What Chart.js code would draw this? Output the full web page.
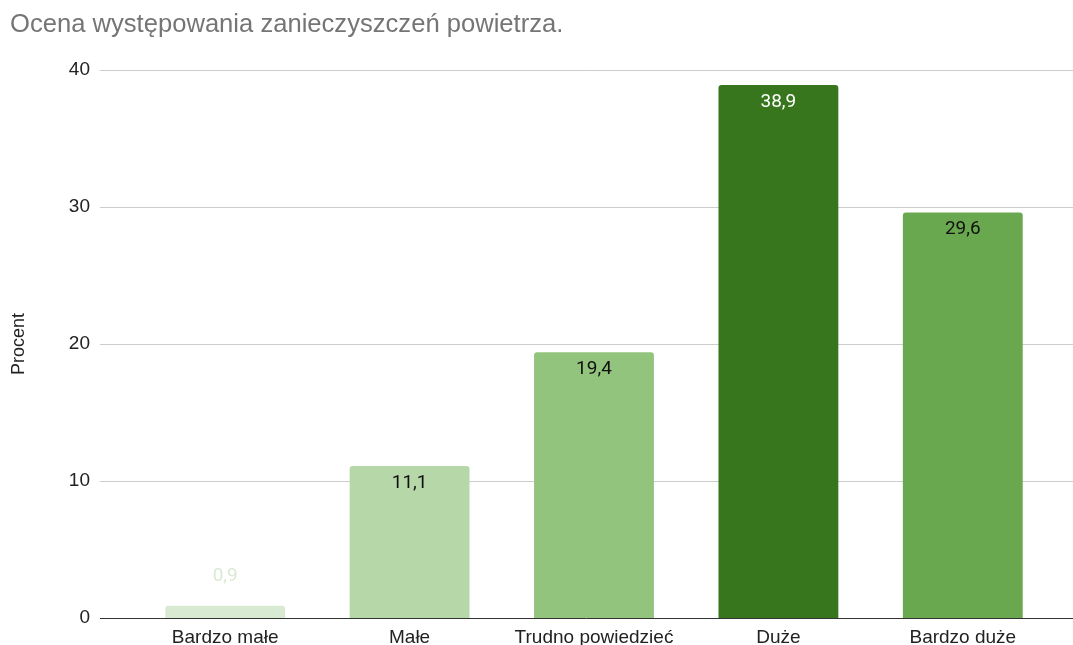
<!DOCTYPE html>
<html>
<head>
<meta charset="utf-8">
<script src="https://cdn.jsdelivr.net/npm/chart.js@4"></script>
<style>
  html, body { margin: 0; padding: 0; background: #fff; }
  #wrap { width: 1073px; height: 645px; }
</style>
</head>
<body>
<div id="wrap"><canvas id="c" width="1073" height="645"></canvas></div>
<script>
const categories = ['Bardzo małe', 'Małe', 'Trudno powiedzieć', 'Duże', 'Bardzo duże'];
const values = [0.9, 11.1, 19.4, 38.9, 29.6];
const barColors = ['#d9ead3', '#b6d7a8', '#93c47d', '#38761d', '#6aa84f'];
const labelColors = ['#d9ead3', '#111111', '#111111', '#ffffff', '#111111'];
const yTicks = [0, 10, 20, 30, 40];
const titleText = 'Ocena występowania zanieczyszczeń powietrza.';
const yTitle = 'Procent';

const SANS = '"Liberation Sans", Arial, sans-serif';
const ROBOTO = 'Roboto, "Liberation Sans", Arial, sans-serif';

const gridPlugin = {
  id: 'wideGrid',
  beforeDatasetsDraw(chart) {
    const ctx = chart.ctx;
    const y = chart.scales.y;
    const x0 = chart.chartArea.left - 33;
    const x1 = chart.width;
    ctx.save();
    y.ticks.forEach(t => {
      const py = Math.round(y.getPixelForValue(t.value)) + 0.5;
      ctx.beginPath();
      ctx.strokeStyle = t.value === 0 ? '#333333' : '#cccccc';
      ctx.lineWidth = 1;
      ctx.moveTo(x0, py);
      ctx.lineTo(x1, py);
      ctx.stroke();
    });
    ctx.restore();
  }
};

const labelPlugin = {
  id: 'valueLabels',
  afterDatasetsDraw(chart) {
    const ctx = chart.ctx;
    const meta = chart.getDatasetMeta(0);
    const yScale = chart.scales.y;
    ctx.save();
    ctx.font = '19px ' + ROBOTO;
    ctx.textAlign = 'center';
    ctx.textBaseline = 'middle';
    meta.data.forEach((bar, i) => {
      const v = values[i];
      const txt = v.toFixed(1).replace('.', ',');
      const h = yScale.getPixelForValue(0) - bar.y;
      const ty = h > 30 ? bar.y + 17 : bar.y - 29;
      ctx.fillStyle = labelColors[i];
      ctx.fillText(txt, bar.x, ty);
    });
    ctx.restore();
  }
};

new Chart(document.getElementById('c'), {
  type: 'bar',
  data: {
    labels: categories,
    datasets: [{
      data: values,
      backgroundColor: barColors,
      borderWidth: 0,
      borderRadius: 3,
      borderSkipped: 'bottom',
      categoryPercentage: 1,
      barPercentage: 0.65
    }]
  },
  options: {
    responsive: false,
    maintainAspectRatio: false,
    animation: false,
    devicePixelRatio: 1,
    layout: { padding: { left: 10, right: 18, top: 0, bottom: 0 } },
    plugins: {
      legend: { display: false },
      tooltip: { enabled: false },
      title: {
        display: true,
        text: titleText,
        align: 'start',
        color: '#757575',
        font: { family: SANS, size: 25.6, weight: 'normal' },
        padding: { top: 10, bottom: 29.3 }
      }
    },
    scales: {
      x: {
        grid: { display: false, drawTicks: false },
        border: { display: false },
        ticks: {
          color: '#222222',
          font: { family: SANS, size: 19 },
          padding: 8,
          maxRotation: 0,
          autoSkip: false
        },
        afterFit(scale) { scale.height = 27; }
      },
      y: {
        min: 0,
        max: 40,
        afterBuildTicks(scale) { scale.ticks = yTicks.map(v => ({ value: v })); },
        grid: { display: false, drawTicks: false },
        border: { display: false },
        ticks: {
          color: '#222222',
          font: { family: SANS, size: 19 },
          padding: 43
        },
        title: {
          display: true,
          text: yTitle,
          color: '#222222',
          font: { family: SANS, size: 18 },
          padding: { top: -2, bottom: 0 }
        },
        afterFit(scale) {
          scale.width = 123;
          scale.paddingTop = 0;
          scale.paddingBottom = 0;
        }
      }
    }
  },
  plugins: [gridPlugin, labelPlugin]
});
</script>
</body>
</html>
